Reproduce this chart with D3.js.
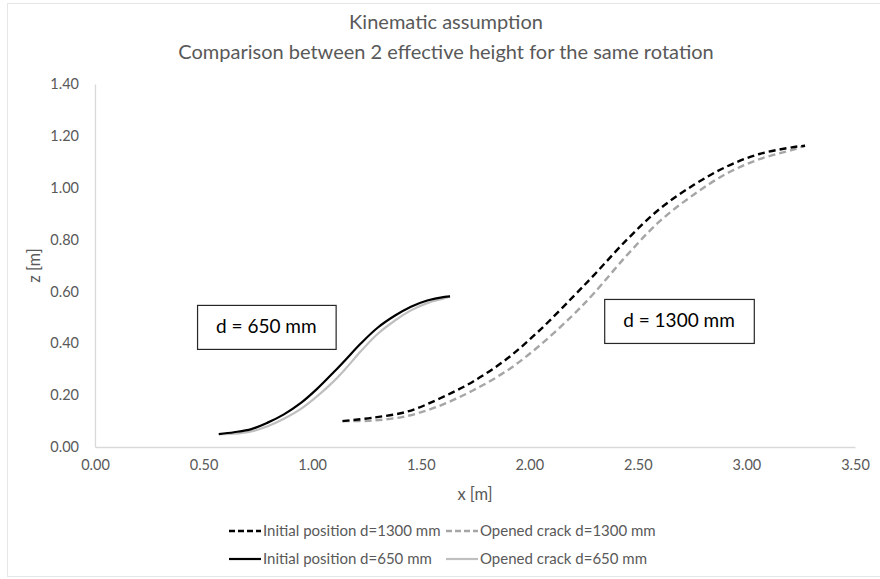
<!DOCTYPE html>
<html><head><meta charset="utf-8">
<script src="https://cdn.jsdelivr.net/npm/d3@7"></script>
<style>body{margin:0;background:#fff}svg{display:block}text{font-family:Lato,"Open Sans",sans-serif}</style>
</head><body><svg id="c" width="880" height="579"></svg>
<script>
const titleLines = ["Kinematic assumption", "Comparison between 2 effective height for the same rotation"];
const xTicks = [0, 0.5, 1, 1.5, 2, 2.5, 3, 3.5];
const yTicks = [0, 0.2, 0.4, 0.6, 0.8, 1.0, 1.2, 1.4];
const xLabel = "x [m]";
const yLabel = "z [m]";
// d = 1300 mm
const init1300X = [1.14,1.28,1.44,1.59,1.74,1.90,2.05,2.20,2.30,2.45,2.60,2.76,2.91,3.06,3.22,3.27];
const init1300Z = [0.100,0.113,0.137,0.188,0.252,0.342,0.452,0.578,0.665,0.800,0.918,1.012,1.082,1.130,1.157,1.162];
const open1300X = [1.14,1.28,1.44,1.59,1.74,1.90,2.05,2.20,2.30,2.45,2.60,2.76,2.91,3.06,3.22,3.27];
const open1300Z = [0.100,0.102,0.120,0.160,0.218,0.296,0.393,0.508,0.595,0.740,0.870,0.975,1.055,1.110,1.148,1.162];
// d = 650 mm
const init650X = [0.570,0.640,0.720,0.795,0.870,0.950,1.025,1.100,1.150,1.225,1.300,1.380,1.455,1.530,1.610,1.635];
const init650Z = [0.050,0.057,0.069,0.094,0.126,0.171,0.226,0.289,0.333,0.400,0.459,0.506,0.541,0.565,0.579,0.581];
const open650X = [0.570,0.640,0.720,0.795,0.870,0.950,1.025,1.100,1.150,1.225,1.300,1.380,1.455,1.530,1.610,1.635];
const open650Z = [0.050,0.051,0.060,0.080,0.109,0.148,0.197,0.254,0.298,0.370,0.435,0.487,0.527,0.555,0.574,0.581];
const seriesNames = ["Initial position d=1300 mm","Opened crack d=1300 mm","Initial position d=650 mm","Opened crack d=650 mm"];
const annotations = [{text:"d = 650 mm", x:0.47, z:0.548}, {text:"d = 1300 mm", x:2.345, z:0.571}];

const svg = d3.select("#c");
const W = 880, H = 579;
const m = {left:95, right:25, top:84, bottom:132};
const x = d3.scaleLinear().domain([0,3.5]).range([m.left, W-m.right]);
const y = d3.scaleLinear().domain([0,1.4]).range([H-m.bottom, m.top]);

// frame
svg.append("rect").attr("x",7.5).attr("y",3.5).attr("width",W).attr("height",573)
  .attr("fill","none").attr("stroke","#e6e6e6");

// title
svg.selectAll("text.title").data(titleLines).join("text").attr("class","title")
  .attr("x",446).attr("y",(d,i)=>29+i*30).attr("text-anchor","middle")
  .attr("font-size",20).attr("fill","#595959").text(d=>d);

// axes
const xa = svg.append("g").attr("transform",`translate(0,${y(0)})`)
  .call(d3.axisBottom(x).tickValues(xTicks).tickFormat(d3.format(".2f")).tickSize(0).tickPadding(13));
const ya = svg.append("g").attr("transform",`translate(${x(0)},0)`)
  .call(d3.axisLeft(y).tickValues(yTicks).tickFormat(d3.format(".2f")).tickSize(0).tickPadding(16));
[xa,ya].forEach(a=>{
  a.select(".domain").attr("stroke","#d9d9d9").attr("stroke-width",1.3);
  a.selectAll("text").attr("font-size",14.5).attr("fill","#595959").style("font-family","Lato");
});
svg.append("text").attr("x",x(1.75)).attr("y",500).attr("text-anchor","middle")
  .attr("font-size",16.5).attr("fill","#595959").text(xLabel);
svg.append("text").attr("transform",`translate(40,${y(0.7)}) rotate(-90)`).attr("text-anchor","middle")
  .attr("font-size",16.5).attr("fill","#595959").text(yLabel);

// series
const styles = [
  {color:"#000000", dash:"7,4", w:2.4},
  {color:"#a6a6a6", dash:"7,4", w:2.4},
  {color:"#000000", dash:null, w:2.2},
  {color:"#bfbfbf", dash:null, w:2.2}
];
const series = [
  init1300X.map((v,i)=>[v,init1300Z[i]]),
  open1300X.map((v,i)=>[v,open1300Z[i]]),
  init650X.map((v,i)=>[v,init650Z[i]]),
  open650X.map((v,i)=>[v,open650Z[i]])
];
const line = d3.line().x(d=>x(d[0])).y(d=>y(d[1])).curve(d3.curveCatmullRom.alpha(0.5));
const order = [3,2,1,0];
order.forEach(i=>{
  svg.append("path").datum(series[i]).attr("d",line).attr("fill","none")
    .attr("stroke",styles[i].color).attr("stroke-width",styles[i].w)
    .attr("stroke-dasharray",styles[i].dash);
});

// annotations
annotations.forEach(a=>{
  const g = svg.append("g").attr("transform",`translate(${x(a.x)},${y(a.z)})`);
  const t = g.append("text").attr("x",0).attr("y",0).attr("font-size",19).attr("fill","#000")
    .text(a.text);
  const bb = t.node().getBBox();
  const padX = 19, h = 44;
  g.insert("rect","text").attr("x",0.5).attr("y",0.5).attr("width",bb.width+2*padX).attr("height",h)
    .attr("fill","#fff").attr("stroke","#262626").attr("stroke-width",1.2);
  t.attr("x",padX).attr("y",h/2+6.5);
});

// legend
const legPos = [[229,531],[446,531],[229,559],[446,559]];
seriesNames.forEach((n,i)=>{
  const [lx,ly] = legPos[i];
  svg.append("line").attr("x1",lx).attr("x2",lx+32).attr("y1",ly).attr("y2",ly)
    .attr("stroke",styles[i].color).attr("stroke-width",styles[i].w)
    .attr("stroke-dasharray",styles[i].dash?"6,3":null);
  svg.append("text").attr("x",lx+34).attr("y",ly+5).attr("font-size",15).attr("fill","#595959").text(n);
});
</script></body></html>
